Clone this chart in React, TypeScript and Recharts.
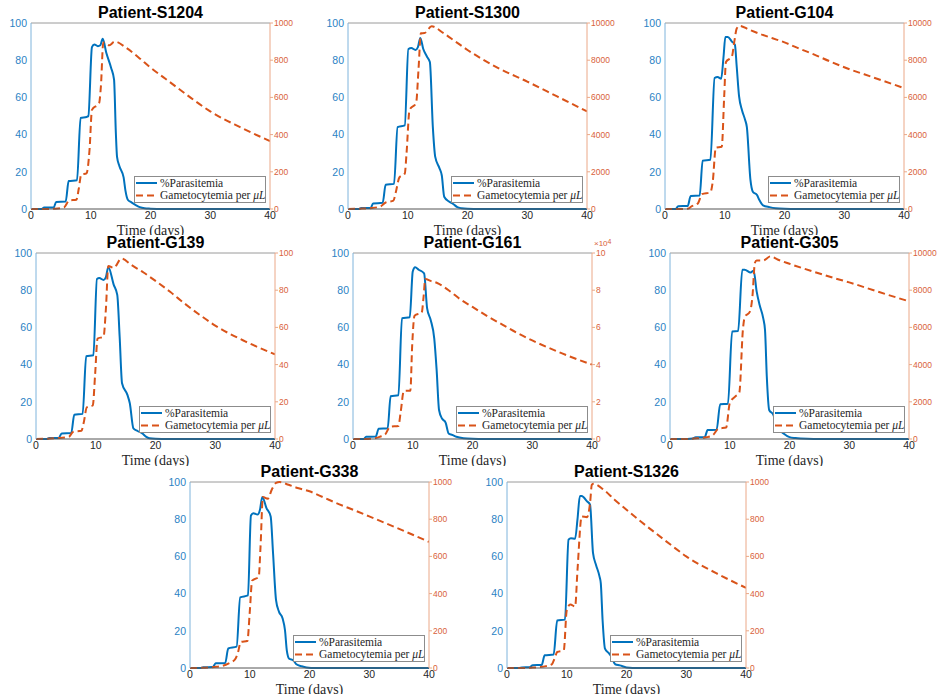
import React from 'react';
import { LineChart, Line, XAxis, YAxis, ReferenceLine, Label } from 'recharts';

type Pt = [number, number];

// ---------- tick labels ----------
const xTicks = [0, 10, 20, 30, 40];
const leftTicks = [0, 20, 40, 60, 80, 100];
const ticks100 = [0, 20, 40, 60, 80, 100];
const ticks1000 = [0, 200, 400, 600, 800, 1000];
const ticks10000 = [0, 2000, 4000, 6000, 8000, 10000];
const ticks1e5 = [0, 20000, 40000, 60000, 80000, 100000];

// ---------- Patient-S1204 ----------
const S1204_para: Pt[] = [[0,0],[1.8,0],[2.2,0.8],[3.8,0.8],[4.2,3.8],[5.8,4],[6.3,15],[7.7,15.5],[8.3,49],[9.3,49.5],[9.6,50],[10.2,87],[10.6,88.5],[11.2,87.5],[11.6,88],[12,91.5],[12.6,84],[13.4,76],[13.9,69.5],[14.2,41],[14.4,28],[14.8,23],[15.5,17],[15.8,10],[16.2,5],[16.8,3.6],[17.6,2],[18.2,1],[19,0.4],[20,0.2],[22,0],[40,0]];
const S1204_gam: Pt[] = [[0,0],[2,0],[4,2],[5.5,8],[6.4,46],[7.6,50],[8,110],[8.4,185],[9.3,192],[9.8,320],[10.2,533],[11.4,570],[11.7,660],[12.1,895],[13.1,880],[14,900],[16,865],[18,815],[20,760],[22.5,700],[25,640],[27.5,580],[30,525],[35,440],[40,365]];

// ---------- Patient-S1300 ----------
const S1300_para: Pt[] = [[0,0],[1.8,0],[2.2,0.5],[3.8,0.6],[4.2,3],[5.8,3.3],[6.3,13],[7.7,13.5],[8.3,44],[9.5,45],[10.1,86],[10.6,86.5],[11.3,85.5],[11.7,87],[12.1,92],[12.6,86],[13.2,82],[13.7,79],[14.2,44],[14.6,28],[15.3,22],[15.7,18],[16.1,6.6],[16.9,4],[17.6,2.7],[18.3,1],[19,0.4],[20,0.1],[22,0],[40,0]];
const S1300_gam: Pt[] = [[0,0],[2,20],[4,50],[5.5,150],[6.3,350],[7.6,450],[8,900],[8.6,1700],[9.5,1900],[9.8,3000],[10.3,5330],[11.4,5700],[11.8,7500],[12.2,9450],[12.8,9460],[14,9820],[16,9450],[18,9000],[20,8550],[22.5,8050],[25,7600],[30,6850],[35,6050],[40,5250]];

// ---------- Patient-G104 ----------
const G104_para: Pt[] = [[0,0],[1.8,0],[2.2,1.5],[3.8,1.6],[4.3,7],[5.8,7.2],[6.3,26],[7.6,26.5],[8.3,70.4],[8.8,71],[9.4,70],[9.8,82],[10.1,92.5],[10.5,92.5],[11.2,90],[11.7,88.3],[12,76.6],[12.4,60.5],[12.9,53],[13.4,48],[13.7,44],[14.3,15.6],[14.7,9.3],[15.4,7.5],[15.8,4.8],[16.4,2],[17.5,1],[18.5,0.4],[20,0.1],[22,0],[40,0]];
const G104_gam: Pt[] = [[0,0],[2,0],[3.8,20],[4.5,150],[5.5,300],[6.2,800],[7.6,900],[8,1500],[8.5,3300],[9.5,3350],[9.9,6000],[10.2,7900],[11.2,8200],[11.6,9000],[12,9700],[12.5,9850],[14,9650],[16,9400],[18,9180],[20,8960],[22.5,8620],[25,8300],[27.5,7950],[30,7620],[35,7060],[40,6500]];

// ---------- Patient-G139 ----------
const G139_para: Pt[] = [[0,0],[1.8,0],[2.2,0.5],[3.8,0.6],[4.3,3],[5.9,3.2],[6.4,13],[7.8,13.5],[8.4,44.5],[9.6,45],[10.2,86],[10.6,86.5],[11.3,85.5],[11.7,87],[12.1,92.5],[13,83],[13.6,77.5],[14,55],[14.4,30],[15.3,23.7],[15.7,19.2],[16.3,5.7],[17,4.3],[17.8,3],[18.4,1.3],[19,0.4],[20,0.1],[22,0],[40,0]];
const G139_gam: Pt[] = [[0,0],[2,0.2],[4,0.6],[5.5,1.2],[6.2,3.8],[7.6,4.4],[8,9],[8.5,17],[9.5,18],[9.9,35],[10.3,54],[11.3,55],[11.7,70],[12.1,93],[13,92],[14.3,97],[16,93.5],[18,89.5],[20,85],[22.5,79],[25,72.5],[27.5,66.5],[30,61],[35,52.5],[40,45.5]];

// ---------- Patient-G161 ----------
const G161_para: Pt[] = [[0,0],[1.8,0],[2.2,1.2],[3.8,1.3],[4.3,5.5],[5.8,5.8],[6.3,23],[7.6,23.5],[8.2,65],[9.5,65.5],[10,90],[10.4,92.3],[11,91],[11.9,89],[12.4,70.4],[13,64],[13.6,54],[14,37],[14.4,15.6],[14.9,11],[15.5,8.8],[16,3],[16.6,2.2],[17.3,1.2],[18.5,0.4],[20,0.1],[22,0],[40,0]];
const G161_gam: Pt[] = [[0,0],[2,0],[3.8,500],[4.5,1200],[5.4,2500],[6.2,6600],[7.6,7000],[8,15000],[8.5,25800],[9.6,26000],[9.9,50000],[10.3,66300],[11.5,68000],[11.8,76000],[12.1,86000],[13,85000],[14,84000],[16,80000],[18,75000],[20,71000],[22.5,66000],[25,61500],[27.5,57000],[30,53000],[35,46000],[40,40000]];

// ---------- Patient-G305 ----------
const G305_para: Pt[] = [[0,0],[2,0],[3.8,0.3],[4.3,1],[5.8,1],[6.3,4.8],[7.8,5],[8.4,18.7],[9.7,19],[10.4,57.8],[11.4,58],[12.1,91],[12.5,91],[13.5,89.5],[14,90.5],[14.5,79.4],[15,72],[15.6,65],[15.9,58.7],[16.2,33.6],[16.6,15.6],[17.3,13],[17.8,8],[18.3,5],[19,3],[20,1],[21,0.5],[23,0.1],[25,0],[40,0]];
const G305_gam: Pt[] = [[0,0],[3,0],[5,50],[6.1,90],[7.2,215],[8.1,556],[9.4,620],[10,1920],[10.9,2280],[11.6,2500],[12.2,5870],[12.5,6550],[13.4,6860],[13.8,7670],[14.2,9460],[14.5,9600],[15.6,9600],[16.8,9820],[18,9650],[20,9420],[22.5,9150],[25,8900],[27.5,8650],[30,8420],[35,7900],[40,7400]];

// ---------- Patient-G338 ----------
const G338_para: Pt[] = [[0,0],[1.8,0],[2.2,0.4],[3.8,0.5],[4.3,2.5],[5.9,2.7],[6.4,10.5],[7.8,11.5],[8.4,38],[9.7,39],[10.2,82],[10.6,83.2],[11.3,82.5],[11.7,85],[12.1,92],[12.8,86],[13.5,81.5],[13.9,61.7],[14.4,36.5],[14.9,30.2],[15.5,26.6],[15.9,20.3],[16.2,9.5],[16.6,5],[17.3,4.1],[17.8,2],[18.7,0.9],[19.5,0.3],[21,0],[40,0]];
const G338_gam: Pt[] = [[0,0],[2,1],[4,5],[5.5,12],[6.5,25],[7.5,45],[8,80],[8.5,140],[9.6,145],[10,300],[10.4,470],[11.5,490],[11.8,650],[12.2,920],[13,910],[13.7,960],[14.4,995],[15,1000],[16.5,985],[18,968],[20,950],[22.5,915],[25,880],[27.5,848],[30,815],[35,748],[40,678]];

// ---------- Patient-S1326 ----------
const S1326_para: Pt[] = [[0,0],[2,0],[2.5,0.3],[3.8,0.4],[4.3,1.5],[5.8,1.6],[6.3,6.8],[7.8,7.2],[8.4,25.5],[9.7,26],[10.3,69],[10.7,69.8],[11.4,69.5],[11.8,80],[12.2,92.5],[12.5,92.5],[13.4,89.6],[13.9,87.8],[14.4,61.7],[14.9,55.4],[15.5,49],[15.7,45.5],[16,25.7],[16.4,10.4],[17,8.1],[17.5,5.9],[18.1,2],[18.9,1.4],[20,0.3],[22,0],[40,0]];
const S1326_gam: Pt[] = [[0,0],[2,0],[4,2],[5.5,5],[6.5,10],[7.5,20],[8,55],[8.4,86],[9.5,95],[10,310],[10.6,342],[11.4,330],[11.8,527],[12.5,815],[13.4,811],[13.9,887],[14.2,985],[14.5,990],[16.2,958],[18,905],[20,851],[22.5,785],[25,722],[27.5,660],[30,600],[35,510],[40,431]];

// ---------- colours ----------
const BLUE = '#0072BD';
const ORANGE = '#D95319';

const fmtPlain = (v: number) => String(v);
const fmtE4 = (v: number) => String(v / 10000);

type PanelCfg = {
  title: string;
  left: number;
  top: number;
  clip: number;
  para: Pt[];
  gam: Pt[];
  rMax: number;
  rTicks: number[];
  rFmt: (v: number) => string;
  exp?: boolean;
};

const panels: PanelCfg[] = [
  { title: 'Patient-S1204', left: 31, top: 23, clip: 235, para: S1204_para, gam: S1204_gam, rMax: 1000, rTicks: ticks1000, rFmt: fmtPlain },
  { title: 'Patient-S1300', left: 348, top: 23, clip: 235, para: S1300_para, gam: S1300_gam, rMax: 10000, rTicks: ticks10000, rFmt: fmtPlain },
  { title: 'Patient-G104', left: 665, top: 23, clip: 235, para: G104_para, gam: G104_gam, rMax: 10000, rTicks: ticks10000, rFmt: fmtPlain },
  { title: 'Patient-G139', left: 36, top: 253, clip: 466, para: G139_para, gam: G139_gam, rMax: 100, rTicks: ticks100, rFmt: fmtPlain },
  { title: 'Patient-G161', left: 353, top: 253, clip: 466, para: G161_para, gam: G161_gam, rMax: 100000, rTicks: ticks1e5, rFmt: fmtE4, exp: true },
  { title: 'Patient-G305', left: 670, top: 253, clip: 466, para: G305_para, gam: G305_gam, rMax: 10000, rTicks: ticks10000, rFmt: fmtPlain },
  { title: 'Patient-G338', left: 190, top: 482, clip: 694, para: G338_para, gam: G338_gam, rMax: 1000, rTicks: ticks1000, rFmt: fmtPlain },
  { title: 'Patient-S1326', left: 507, top: 482, clip: 694, para: S1326_para, gam: S1326_gam, rMax: 1000, rTicks: ticks1000, rFmt: fmtPlain },
];

const PLOT_W = 239;
const PLOT_H = 186;
const LW = 40;
const RW = 40;

const XLabel = (props: any) => {
  const vb = props.viewBox || {};
  return (
    <text
      x={vb.x + vb.width / 2}
      y={vb.y + 26}
      textAnchor="middle"
      fontFamily="'Liberation Serif', 'DejaVu Serif', serif"
      fontSize={14}
      fill="#262626"
    >
      Time (days)
    </text>
  );
};

function LegendBox({ left, top }: { left: number; top: number }) {
  return (
    <svg
      width={133}
      height={28}
      style={{ position: 'absolute', left, top, overflow: 'visible' }}
    >
      <rect x={0.5} y={0.5} width={131} height={26} fill="#fff" stroke="#8c8c8c" strokeWidth={1} />
      <line x1={2} y1={7} x2={23} y2={7} stroke={BLUE} strokeWidth={2} />
      <text x={26} y={10.8} fontFamily="'Liberation Serif', 'DejaVu Serif', serif" fontSize={11.5} fill="#262626">
        %Parasitemia
      </text>
      <line x1={2} y1={19.5} x2={23} y2={19.5} stroke={ORANGE} strokeWidth={2} strokeDasharray="7 4" />
      <text x={26} y={23.3} fontFamily="'Liberation Serif', 'DejaVu Serif', serif" fontSize={11.5} fill="#262626">
        Gametocytemia per <tspan fontStyle="italic">μL</tspan>
      </text>
    </svg>
  );
}

function Panel({ cfg }: { cfg: PanelCfg }) {
  const chartTop = cfg.top - 5;
  const chartH = cfg.clip - chartTop;
  const xAxisH = chartH - 5 - PLOT_H;
  const paraData = cfg.para.map(([d, v]) => ({ day: d, para: v }));
  const gamData = cfg.gam.map(([d, v]) => ({ day: d, gam: v }));
  return (
    <>
      <div
        style={{
          position: 'absolute',
          left: cfg.left - 30,
          top: cfg.top - 18,
          width: PLOT_W + 60,
          textAlign: 'center',
          fontFamily: "'Liberation Sans', Arial, sans-serif",
          fontWeight: 'bold',
          fontSize: 16,
          lineHeight: '16px',
          color: '#000',
          whiteSpace: 'nowrap',
        }}
      >
        {cfg.title}
      </div>
      <div style={{ position: 'absolute', left: cfg.left - LW, top: chartTop }}>
        <LineChart
          width={LW + PLOT_W + RW}
          height={chartH}
          margin={{ top: 5, right: 0, left: 0, bottom: 0 }}
        >
          <XAxis
            dataKey="day"
            type="number"
            domain={[0, 40]}
            ticks={xTicks}
            allowDataOverflow
            height={xAxisH}
            stroke="#555"
            tickLine={false}
            tickSize={2}
            tickMargin={1}
            tick={{ fill: '#262626', fontSize: 10.5, fontFamily: "'Liberation Sans', Arial, sans-serif" }}
            interval={0}
          >
            <Label content={XLabel} />
          </XAxis>
          <YAxis
            yAxisId="l"
            orientation="left"
            type="number"
            domain={[0, 100]}
            ticks={leftTicks}
            width={LW}
            stroke="#7fb4dc"
            tickLine={false}
            tickSize={2}
            tickMargin={2}
            tick={{ fill: '#2a82c4', fontSize: 10.5, fontFamily: "'Liberation Sans', Arial, sans-serif" }}
            interval={0}
          />
          <YAxis
            yAxisId="r"
            orientation="right"
            type="number"
            domain={[0, cfg.rMax]}
            ticks={cfg.rTicks}
            tickFormatter={cfg.rFmt}
            width={RW}
            stroke="#eba888"
            tickSize={3}
            tickMargin={1}
            tick={{ fill: '#d9623a', fontSize: 8.5, fontFamily: "'Liberation Sans', Arial, sans-serif" }}
            interval={0}
          />
          <ReferenceLine yAxisId="l" y={100} stroke="#9a9a9a" strokeWidth={1} ifOverflow="visible" />
          <Line
            yAxisId="l"
            data={paraData}
            dataKey="para"
            type="monotone"
            stroke={BLUE}
            strokeWidth={2}
            dot={false}
            activeDot={false}
            isAnimationActive={false}
          />
          <Line
            yAxisId="r"
            data={gamData}
            dataKey="gam"
            type="monotone"
            stroke={ORANGE}
            strokeWidth={2}
            strokeDasharray="7 4"
            dot={false}
            activeDot={false}
            isAnimationActive={false}
          />
        </LineChart>
      </div>
      {cfg.exp && (
        <div
          style={{
            position: 'absolute',
            left: cfg.left + PLOT_W + 2,
            top: cfg.top - 13,
            fontFamily: "'Liberation Sans', Arial, sans-serif",
            fontSize: 8,
            color: '#d9623a',
            lineHeight: '8px',
            whiteSpace: 'nowrap',
          }}
        >
          ×10<sup style={{ fontSize: 7, verticalAlign: 'top', position: 'relative', top: -2 }}>4</sup>
        </div>
      )}
      <LegendBox left={cfg.left + 103} top={cfg.top + 153} />
    </>
  );
}

export default function App() {
  return (
    <div
      style={{
        position: 'absolute',
        left: 0,
        top: 0,
        width: 938,
        height: 700,
        background: '#fff',
        overflow: 'hidden',
      }}
    >
      {panels.map((p) => (
        <Panel key={p.title} cfg={p} />
      ))}
    </div>
  );
}
